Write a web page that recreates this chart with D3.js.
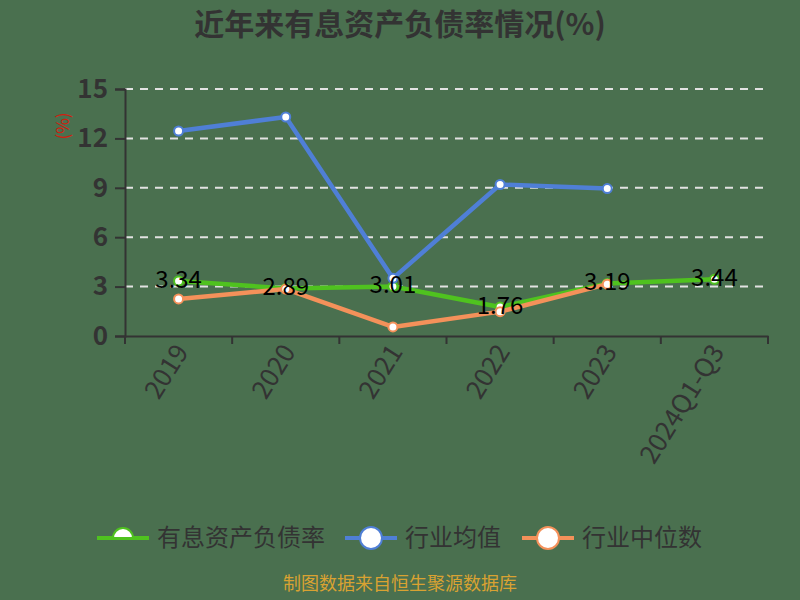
<!doctype html>
<html>
<head>
<meta charset="utf-8">
<style>
  body { margin: 0; background: #4a704f; }
  svg text { font-family: "Noto Sans CJK SC", "Noto Sans", sans-serif; }
</style>
</head>
<body>
<svg id="chart" width="800" height="600"></svg>
<script src="https://cdn.jsdelivr.net/npm/d3@7/dist/d3.min.js"></script>
<script>
// values
const years = ["2019", "2020", "2021", "2022", "2023", "2024Q1-Q3"];
const rateVals = [3.34, 2.89, 3.01, 1.76, 3.19, 3.44];      // 有息资产负债率
const avgVals = [12.45, 13.3, 3.5, 9.2, 8.95, null];       // 行业均值
const medVals = [2.25, 2.85, 0.55, 1.48, 3.15, null];      // 行业中位数
const yTicks = [0, 3, 6, 9, 12, 15];

const seriesNames = ["有息资产负债率", "行业均值", "行业中位数"];
const seriesColors = ["#4fc21f", "#4f7fd6", "#f4915a"];

const svg = d3.select("#chart");
svg.append("rect").attr("width", 800).attr("height", 600).attr("fill", "#4a704f");

let x = d3.scaleBand().domain(years).range([125, 768]);
let y = d3.scaleLinear().domain([0, 15]).range([336, 89]);
const cx = d => x(d) + x.bandwidth() / 2;

// title
svg.append("text")
  .attr("x", 400).attr("y", 35)
  .attr("text-anchor", "middle")
  .attr("font-size", "30px").attr("font-weight", "bold")
  .attr("fill", "#333")
  .text("近年来有息资产负债率情况(%)");

// grid
svg.append("g")
  .selectAll("line")
  .data(yTicks.filter(t => t > 0))
  .join("line")
  .attr("x1", 125).attr("x2", 768)
  .attr("y1", d => y(d)).attr("y2", d => y(d))
  .attr("stroke", "#e2e2e2").attr("stroke-width", 2)
  .attr("stroke-dasharray", "8,7");

// y axis
const yAxis = svg.append("g")
  .attr("transform", "translate(125,0)")
  .call(d3.axisLeft(y).tickValues(yTicks).tickSize(10).tickPadding(7));
yAxis.select(".domain").attr("stroke", "#333").attr("stroke-width", 2);
yAxis.selectAll(".tick line").attr("stroke", "#333").attr("stroke-width", 2);
yAxis.selectAll("text")
  .attr("fill", "#333").attr("font-size", "26px").attr("font-weight", "bold")
  .attr("font-family", "Noto Sans CJK SC");

svg.append("text")
  .attr("transform", "translate(63,126) rotate(-90)")
  .attr("text-anchor", "middle").attr("dy", "0.35em")
  .attr("font-size", "17px").attr("fill", "#d02010")
  .text("(%)");

// x axis
const xAxis = svg.append("g")
  .attr("transform", "translate(0,336)")
  .call(d3.axisBottom(x).tickSize(0).tickFormat(""));
xAxis.select(".domain").attr("stroke", "#333").attr("stroke-width", 2);
svg.append("g")
  .selectAll("line")
  .data(d3.range(years.length + 1))
  .join("line")
  .attr("x1", i => 125 + i * x.step()).attr("x2", i => 125 + i * x.step())
  .attr("y1", 336).attr("y2", 344)
  .attr("stroke", "#333").attr("stroke-width", 2);
svg.append("g")
  .selectAll("text")
  .data(years)
  .join("text")
  .attr("transform", d => "translate(" + (cx(d) + 3) + ",347) rotate(-58)")
  .attr("text-anchor", "end").attr("dy", "0.35em")
  .attr("font-size", "26px").attr("fill", "#333")
  .text(d => d);

// lines
const allVals = [rateVals, avgVals, medVals];
const line = d3.line()
  .defined(d => d.v != null)
  .x(d => cx(d.k)).y(d => y(d.v));

allVals.forEach(function (vals, s) {
  const pts = years.map((k, i) => ({ k: k, v: vals[i] }));
  svg.append("path")
    .datum(pts)
    .attr("d", line)
    .attr("fill", "none")
    .attr("stroke", seriesColors[s])
    .attr("stroke-width", 4.5)
    .attr("stroke-linejoin", "round");
  svg.append("g")
    .selectAll("circle")
    .data(pts.filter(d => d.v != null))
    .join("circle")
    .attr("cx", d => cx(d.k)).attr("cy", d => y(d.v))
    .attr("r", 4.5)
    .attr("fill", "#fff")
    .attr("stroke", seriesColors[s]).attr("stroke-width", 2);
});

// data labels for 有息资产负债率
svg.append("g")
  .selectAll("text")
  .data(years)
  .join("text")
  .attr("x", d => cx(d))
  .attr("y", (d, i) => y(rateVals[i]) + 7)
  .attr("text-anchor", "middle")
  .attr("font-size", "24px").attr("fill", "#000")
  .text((d, i) => rateVals[i].toFixed(2));

// legend
const legendX = [97, 345, 522];
const lg = svg.append("g");
seriesNames.forEach(function (name, s) {
  const lx = legendX[s];
  lg.append("line")
    .attr("x1", lx).attr("x2", lx + 52)
    .attr("y1", 538).attr("y2", 538)
    .attr("stroke", seriesColors[s]).attr("stroke-width", 4);
  if (s === 0) {
    lg.append("path")
      .attr("d", d3.arc()({ innerRadius: 0, outerRadius: 10, startAngle: -Math.PI / 2, endAngle: Math.PI / 2 }))
      .attr("transform", "translate(" + (lx + 26) + ",538)")
      .attr("fill", "#fff").attr("stroke", seriesColors[s]).attr("stroke-width", 2);
  } else {
    lg.append("circle")
      .attr("cx", lx + 26).attr("cy", 538).attr("r", 11)
      .attr("fill", "#fff").attr("stroke", seriesColors[s]).attr("stroke-width", 2);
  }
  lg.append("text")
    .attr("x", lx + 60).attr("y", 538).attr("dy", "0.35em")
    .attr("font-size", "24px").attr("fill", "#333")
    .text(name);
});

// footer
svg.append("text")
  .attr("x", 400).attr("y", 590)
  .attr("text-anchor", "middle")
  .attr("font-size", "18px").attr("fill", "#d9a232")
  .text("制图数据来自恒生聚源数据库");
</script>
</body>
</html>
